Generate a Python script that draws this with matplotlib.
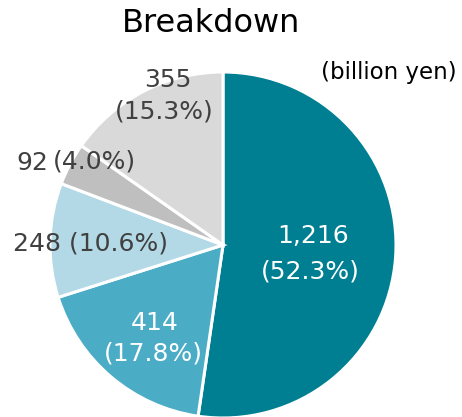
import matplotlib
matplotlib.use('Agg')
from matplotlib import pyplot as plt

# data
values = [1216, 414, 248, 92, 355]
shares = ['52.3%', '17.8%', '10.6%', '4.0%', '15.3%']
colors = ['#007F93', '#4BACC6', '#B2D9E5', '#BFBFBF', '#D9D9D9']

W, H = 462, 417
fig = plt.figure(figsize=(W / 100, H / 100), dpi=100)

# pie centre (223, 245) px, radius 173 px
cx, cy, r = 223, 245, 173
ax = fig.add_axes([(cx - r) / W, (H - cy - r) / H, 2 * r / W, 2 * r / H])
ax.pie(values, colors=colors, startangle=90, counterclock=False,
       radius=1, wedgeprops=dict(edgecolor='white', linewidth=2.2))
ax.set_xlim(-1, 1)
ax.set_ylim(-1, 1)
ax.set_aspect('equal')
ax.axis('off')


def put(x, y, s, size=18, color='#404040', ha='center'):
    fig.text(x / W, 1 - y / H, s, fontsize=size, color=color, ha=ha, va='center')


put(211, 24, 'Breakdown', size=23, color='black')
put(389, 73, '(billion yen)', size=16.5, color='black')

put(313, 236, f'{values[0]:,}', color='white')
put(310, 271, f'({shares[0]})', color='white')
put(155, 323, f'{values[1]:,}', color='white')
put(153, 354, f'({shares[1]})', color='white')
put(13, 243, f'{values[2]} ({shares[2]})', ha='left')
put(16, 163, f'{values[3]}', ha='left')
put(53, 162, f'({shares[3]})', ha='left')
put(168, 80, f'{values[4]}')
put(164, 112, f'({shares[4]})')

plt.savefig('out.png', dpi=100)
